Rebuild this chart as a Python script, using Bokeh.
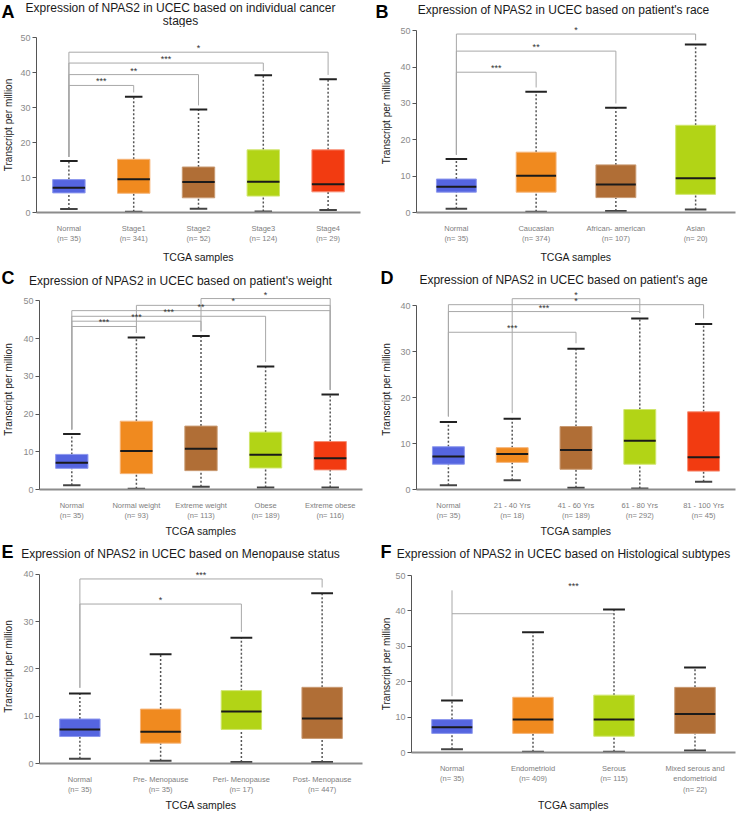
from bokeh.plotting import figure
from bokeh.layouts import column, row
from bokeh.models import FixedTicker, Label, Range1d
from bokeh.core.properties import value
from bokeh.embed import file_html
from bokeh.resources import INLINE

FONT = "Liberation Sans"

# ---------------- data ----------------
# Panel A: cancer stages
a_cats = ["Normal", "Stage1", "Stage2", "Stage3", "Stage4"]
a_n = [35, 341, 52, 124, 29]
a_min = [1.0, 0.2, 1.1, 0.3, 0.7]
a_q1 = [5.6, 5.5, 4.2, 4.7, 5.9]
a_med = [7.1, 9.5, 8.7, 8.8, 8.1]
a_q3 = [9.4, 15.2, 13.0, 17.9, 17.9]
a_max = [14.7, 33.1, 29.4, 39.2, 38.1]
a_br_l = [0, 0, 0, 0]
a_br_r = [1, 2, 3, 4]
a_br_y = [36.3, 39.4, 42.7, 45.8]
a_br_lab = ["***", "**", "***", "*"]

# Panel B: race
b_cats = ["Normal", "Caucasian", "African- american", "Asian"]
b_n = [35, 374, 107, 20]
b_min = [1.0, 0.2, 0.4, 0.8]
b_q1 = [5.6, 5.6, 4.1, 5.0]
b_med = [7.1, 10.1, 7.7, 9.4]
b_q3 = [9.2, 16.6, 13.1, 24.0]
b_max = [14.7, 33.2, 28.8, 46.2]
b_br_l = [0, 0, 0]
b_br_r = [1, 2, 3]
b_br_y = [38.6, 44.4, 49.1]
b_br_lab = ["***", "**", "*"]

# Panel C: weight
c_cats = ["Normal", "Normal weight", "Extreme weight", "Obese", "Extreme obese"]
c_n = [35, 93, 113, 189, 116]
c_min = [1.1, 0.2, 0.7, 0.5, 0.5]
c_q1 = [5.6, 4.2, 5.0, 5.7, 5.2]
c_med = [7.1, 10.2, 10.8, 9.2, 8.3]
c_q3 = [9.3, 18.1, 16.8, 15.2, 12.7]
c_max = [14.7, 40.3, 40.7, 32.6, 25.2]
c_br_l = [0, 0, 0, 0, 1, 2]
c_br_r = [1, 2, 3, 4, 4, 4]
c_br_y = [43.2, 44.6, 45.9, 47.4, 48.8, 50.6]
c_br_lab = ["***", "***", "***", "**", "*", "*"]

# Panel D: age
d_cats = ["Normal", "21 - 40 Yrs", "41 - 60 Yrs", "61 - 80 Yrs", "81 - 100 Yrs"]
d_n = [35, 18, 189, 292, 45]
d_min = [0.9, 2.0, 0.4, 0.2, 1.7]
d_q1 = [5.5, 5.9, 4.4, 5.5, 4.0]
d_med = [7.2, 7.7, 8.6, 10.6, 7.0]
d_q3 = [9.3, 9.1, 13.7, 17.4, 16.9]
d_max = [14.7, 15.4, 30.6, 37.2, 36.0]
d_br_l = [0, 0, 0, 1]
d_br_r = [2, 3, 4, 3]
d_br_y = [34.2, 38.7, 40.2, 41.5]
d_br_lab = ["***", "***", "*", "*"]

# Panel E: menopause
e_cats = ["Normal", "Pre- Menopause", "Peri- Menopause", "Post- Menopause"]
e_n = [35, 35, 17, 447]
e_min = [1.0, 0.6, 0.3, 0.3]
e_q1 = [5.7, 4.3, 7.2, 5.3]
e_med = [7.2, 6.7, 11.0, 9.5]
e_q3 = [9.4, 11.5, 15.4, 16.1]
e_max = [14.8, 23.1, 26.6, 36.0]
e_br_l = [0, 0]
e_br_r = [2, 3]
e_br_y = [33.7, 39.0]
e_br_lab = ["*", "***"]

# Panel F: histological subtypes
f_cats = ["Normal", "Endometrioid", "Serous", "Mixed serous and\nendometrioid"]
f_n = [35, 409, 115, 22]
f_min = [0.9, 0.2, 0.2, 0.6]
f_q1 = [5.4, 5.4, 4.6, 5.4]
f_med = [7.1, 9.3, 9.3, 10.9]
f_q3 = [9.3, 15.6, 16.2, 18.4]
f_max = [14.7, 34.0, 40.4, 24.0]
f_line_l = 0
f_line_r = 2
f_line_y = 39.2
f_left_top = 45.8
f_star_l = 0
f_star_r = 3
f_star_lab = "***"

# ---------------- styles ----------------
BLUE = ("#5565e0", "#8d98ee")
ORANGE = ("#f08a1f", "#f6b57a")
BROWN = ("#b06e36", "#c99a72")
LIME = ("#b2d416", "#d0e66e")
RED = ("#f23b11", "#f78d74")

GAP = 1.2


def make_header(W, h, letter, letter_xy, title_lines, title_xy):
    p = figure(width=W, height=h, x_range=Range1d(0, W), y_range=Range1d(h, 0),
               x_axis_type=None, y_axis_type=None, output_backend="svg",
               toolbar_location=None, title=None, min_border=0,
               min_border_left=0, min_border_right=0, min_border_top=0,
               min_border_bottom=0)
    p.outline_line_color = None
    p.background_fill_color = "white"
    p.border_fill_color = "white"
    p.add_layout(Label(x=letter_xy[0], y=letter_xy[1], text=letter, text_font=FONT,
                       text_font_style="bold", text_font_size="18px", text_color="black",
                       text_align="left", text_baseline="middle"))
    for i, t in enumerate(title_lines):
        p.add_layout(Label(x=title_xy[0], y=title_xy[1] + 13 * i, text=t, text_font=FONT,
                           text_font_size="12px", text_color="#1a1a1a",
                           text_align="center", text_baseline="middle"))
    return p


def make_panel(cats, ns, mn, q1, med, q3, mx, colors,
               W, H, left, right, top, y0px, ytick, yend, ylab_standoff, xlab_standoff,
               brackets=None):
    n = len(cats)
    p = figure(width=W, height=H, x_range=(-0.5, n - 0.5), y_range=(0, yend),
               output_backend="svg", toolbar_location=None, title=None,
               min_border_left=left, min_border_right=W - right,
               min_border_top=top, min_border_bottom=H - y0px)
    p.outline_line_color = None
    p.xgrid.visible = False
    p.ygrid.visible = False
    p.background_fill_color = "white"
    p.border_fill_color = "white"

    xs = list(range(n))
    if brackets is not None:
        bl, br, by, blab = brackets
        lx, ly, tx, ty = [], [], [], []
        for l, r, y in zip(bl, br, by):
            lx.append([l, l, r, r])
            ly.append([mx[l] + GAP, y, y, mx[r] + GAP])
            tx.append((l + r) / 2)
            ty.append(y)
        p.multi_line(lx, ly, line_color="#a8a8a8", line_width=1)
        p.text(tx, ty, text=blab, text_align="center", text_baseline="bottom",
               text_font=value(FONT), text_font_size="9px", text_color="#333333",
               y_offset=1)

    p.segment(xs, q3, xs, mx, line_color="#555555", line_width=1.5, line_dash="2 2")
    p.segment(xs, mn, xs, q1, line_color="#555555", line_width=1.5, line_dash="2 2")
    p.vbar(x=xs, width=0.5, bottom=q1, top=q3,
           fill_color=[c[0] for c in colors], line_color=[c[1] for c in colors],
           line_width=1)
    p.segment([x - 0.25 for x in xs], med, [x + 0.25 for x in xs], med,
              line_color="#1a1a1a", line_width=2)
    p.segment([x - 0.135 for x in xs], mx, [x + 0.135 for x in xs], mx,
              line_color="#222222", line_width=2)
    p.segment([x - 0.135 for x in xs], mn, [x + 0.135 for x in xs], mn,
              line_color="#444444", line_width=2)

    xa = p.xaxis[0]
    xa.ticker = FixedTicker(ticks=xs)
    xa.major_label_overrides = {i: f"{c}\n(n= {k})" for i, (c, k) in enumerate(zip(cats, ns))}
    xa.major_tick_line_color = None
    xa.minor_tick_line_color = None
    xa.axis_line_color = "#8c8c8c"
    xa.axis_line_width = 2
    xa.major_label_text_font = FONT
    xa.major_label_text_font_size = "7.5px"
    xa.major_label_text_color = "#808080"
    xa.major_label_standoff = 5
    xa.axis_label = "TCGA samples"
    xa.axis_label_text_font = FONT
    xa.axis_label_text_font_size = "10.5px"
    xa.axis_label_text_font_style = "normal"
    xa.axis_label_text_color = "#1a1a1a"
    xa.axis_label_standoff = xlab_standoff

    ya = p.yaxis[0]
    ya.ticker = FixedTicker(ticks=list(range(0, ytick + 1, 10)))
    ya.bounds = (0, ytick)
    ya.minor_tick_line_color = None
    ya.axis_line_color = "#555555"
    ya.major_tick_line_color = "#555555"
    ya.major_tick_out = 4
    ya.major_tick_in = 0
    ya.major_label_text_font = FONT
    ya.major_label_text_font_size = "9px"
    ya.major_label_text_color = "#8a8a8a"
    ya.major_label_standoff = 2
    ya.axis_label = "Transcript per million"
    ya.axis_label_text_font = FONT
    ya.axis_label_text_font_size = "10px"
    ya.axis_label_text_font_style = "normal"
    ya.axis_label_text_color = "#1a1a1a"
    ya.axis_label_standoff = ylab_standoff
    return p


hA = make_header(368, 27, "A", (1, 11.5),
                 ["Expression of NPAS2 in UCEC based on individual cancer", "stages"], (180, 7))
pA = make_panel(a_cats, a_n, a_min, a_q1, a_med, a_q3, a_max,
                [BLUE, ORANGE, BROWN, LIME, RED],
                368, 239, 31, 360, 10, 198, 50, 50, 3, 5,
                (a_br_l, a_br_r, a_br_y, a_br_lab))

hB = make_header(369, 23, "B", (7, 11.5),
                 ["Expression of NPAS2 in UCEC based on patient's race"], (195, 9))
pB = make_panel(b_cats, b_n, b_min, b_q1, b_med, b_q3, b_max,
                [BLUE, ORANGE, BROWN, LIME],
                369, 243, 48, 367, 0, 202, 50, 52, 5, 5,
                (b_br_l, b_br_r, b_br_y, b_br_lab))

hC = make_header(368, 23, "C", (1, 11.5),
                 ["Expression of NPAS2 in UCEC based on patient's weight"], (180, 14))
pC = make_panel(c_cats, c_n, c_min, c_q1, c_med, c_q3, c_max,
                [BLUE, ORANGE, BROWN, LIME, RED],
                368, 251, 34, 362, 0, 213, 50, 53, 6, 2,
                (c_br_l, c_br_r, c_br_y, c_br_lab))

hD = make_header(369, 23, "D", (12, 11.5),
                 ["Expression of NPAS2 in UCEC based on patient's age"], (195, 13))
pD = make_panel(d_cats, d_n, d_min, d_q1, d_med, d_q3, d_max,
                [BLUE, ORANGE, BROWN, LIME, RED],
                369, 251, 48, 367, 0, 213, 40, 43.5, 5, 2,
                (d_br_l, d_br_r, d_br_y, d_br_lab))

hE = make_header(368, 23, "E", (1, 11.5),
                 ["Expression of NPAS2 in UCEC based on Menopause status"], (180, 13))
pE = make_panel(e_cats, e_n, e_min, e_q1, e_med, e_q3, e_max,
                [BLUE, ORANGE, LIME, BROWN],
                368, 251, 34, 362, 6, 213, 40, 41, 6, 2,
                (e_br_l, e_br_r, e_br_y, e_br_lab))

hF = make_header(369, 23, "F", (12, 11.5),
                 ["Expression of NPAS2 in UCEC based on Histological subtypes"], (195, 13))
pF = make_panel(f_cats, f_n, f_min, f_q1, f_med, f_q3, f_max,
                [BLUE, ORANGE, LIME, BROWN],
                369, 251, 43, 367, 12, 204, 50, 50, 0, 2)
# Panel F comparison line, drawn as in the source figure
pF.multi_line([[f_line_l, f_line_l], [f_line_l, f_line_r]],
              [[f_max[f_line_l] + GAP, f_left_top], [f_line_y, f_line_y]],
              line_color="#a8a8a8", line_width=1, level="underlay")
pF.text([(f_star_l + f_star_r) / 2], [f_left_top], text=[f_star_lab], text_align="center",
        text_baseline="bottom", text_font=value(FONT), text_font_size="9px",
        text_color="#333333", y_offset=1)

layout = column(
    row(column(row(hA), pA), column(row(hB), pB)),
    row(column(row(hC), pC), column(row(hD), pD)),
    row(column(row(hE), pE), column(row(hF), pF)),
)
open("out.html", "w").write(file_html(layout, INLINE))
